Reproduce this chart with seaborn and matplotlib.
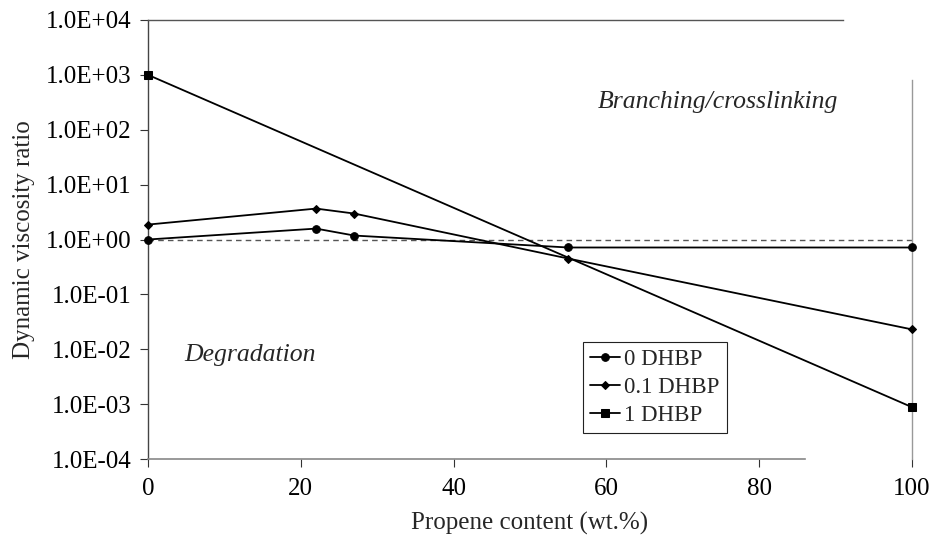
import matplotlib
matplotlib.use("Agg")
import matplotlib.pyplot as plt
import seaborn as sns
import pandas as pd
from matplotlib.ticker import FixedLocator, FuncFormatter

sns.set_style("white")
plt.rcParams['font.family'] = ['Liberation Serif', 'DejaVu Serif']

# Data
x_0 = [0, 22, 27, 55, 100]
y_0 = [1.0, 1.58, 1.18, 0.715, 0.715]
x_01 = [0, 22, 27, 55, 100]
y_01 = [1.87, 3.66, 2.97, 0.45, 0.023]
x_1 = [0, 100]
y_1 = [1000, 0.00088]
labels = ["0 DHBP", "0.1 DHBP", "1 DHBP"]
yticks = [1e-4, 1e-3, 1e-2, 1e-1, 1e0, 1e1, 1e2, 1e3, 1e4]
xticks = [0, 20, 40, 60, 80, 100]

df = pd.concat([
    pd.DataFrame({"x": x_0, "y": y_0, "s": labels[0]}),
    pd.DataFrame({"x": x_01, "y": y_01, "s": labels[1]}),
    pd.DataFrame({"x": x_1, "y": y_1, "s": labels[2]}),
])

fig = plt.figure(figsize=(9.3, 5.46), dpi=100)
ax = fig.add_axes([148/930, 1-459/546, (912-148)/930, (459-20)/546])

# reference line at ratio = 1
ax.hlines(1.0, 0, 100, colors="#555555", linestyles=(0, (4, 3)), linewidth=1.0, zorder=1)

markers = {"0 DHBP": "o", "0.1 DHBP": "D", "1 DHBP": "s"}
sizes = {"0 DHBP": 5.5, "0.1 DHBP": 4.0, "1 DHBP": 6.0}
for lab in labels:
    sub = df[df.s == lab]
    sns.lineplot(data=sub, x="x", y="y", ax=ax, color="black", marker=markers[lab],
                 markersize=sizes[lab], markeredgecolor="black", linewidth=1.3,
                 label=lab, clip_on=False, zorder=3, estimator=None, sort=False)

ax.set_yscale("log")
ax.set_xlim(0, 100)
ax.set_ylim(1e-4, 1e4)
ax.yaxis.set_major_locator(FixedLocator(yticks))
ax.yaxis.set_minor_locator(FixedLocator([]))
ax.yaxis.set_major_formatter(FuncFormatter(lambda v, p: f"{v:.1E}"))
ax.set_xticks(xticks)
ax.tick_params(axis="both", which="major", direction="out", length=6, width=0.8,
               labelsize=18, colors="#333333", labelcolor="black", left=True, bottom=True)
ax.tick_params(axis="x", pad=8)
ax.tick_params(axis="y", pad=6)

for sp in ["left", "bottom", "top", "right"]:
    ax.spines[sp].set_visible(True)
ax.spines["left"].set_color("#444444")
ax.spines["left"].set_linewidth(1.0)
ax.spines["bottom"].set_color("#888888")
ax.spines["bottom"].set_linewidth(1.2)
ax.spines["bottom"].set_bounds(0, 86)
ax.spines["top"].set_color("#555555")
ax.spines["top"].set_linewidth(1.0)
ax.spines["top"].set_bounds(0, 91)
ax.spines["right"].set_color("#999999")
ax.spines["right"].set_linewidth(1.0)
ax.spines["right"].set_bounds(1e-4, 800)

ax.set_xlabel("Propene content (wt.%)", fontsize=18, labelpad=8)
ax.set_ylabel("Dynamic viscosity ratio", fontsize=18, labelpad=8)

ax.text(74.6, 320, "Branching/crosslinking", style="italic", fontsize=18.5,
        ha="center", va="center")
ax.text(13.4, 0.008, "Degradation", style="italic", fontsize=18.5,
        ha="center", va="center")

leg = ax.legend(loc="upper left", bbox_to_anchor=((583-148)/764, (459-342)/439),
                frameon=True, fancybox=False, edgecolor="#222222", framealpha=1,
                fontsize=16.5, handlelength=1.3, handletextpad=0.2, borderpad=0.3,
                labelspacing=0.3, borderaxespad=0)
leg.get_frame().set_linewidth(0.8)

fig.savefig("out.png", dpi=100)
